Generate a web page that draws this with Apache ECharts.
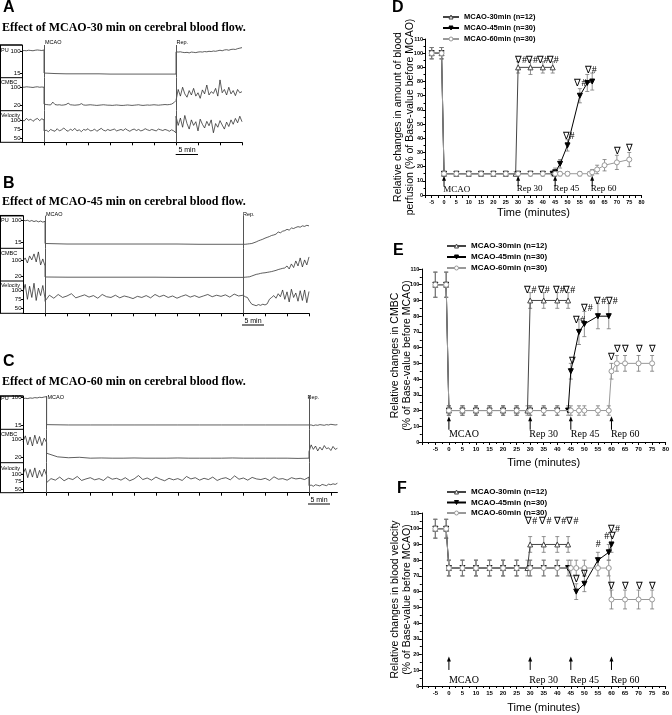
<!DOCTYPE html>
<html><head><meta charset="utf-8">
<script src="https://cdn.jsdelivr.net/npm/echarts@6/dist/echarts.min.js"></script>
<style>html,body{margin:0;padding:0;background:#fff}#c{width:672px;height:715px}</style>
</head><body><div id="c"></div>
<script>
// ================= DATA =================
// ---- Panel A (MCAO-30 min) recordings: pre (-5..0), occlusion, reperfusion ----
const A_PU_pre   = [101,102,101,103,102,101,103,104,103,102,104];
const A_PU_mcao  = [16,14,13,13,13,13,12,12,12,12,12,12,12];
const A_PU_rep   = [97,96,97,95,94,95,93,96,95,94,96,97,96,98,97,99,98,100,99,101,103,101,104,105,103,106,107,106,109,111,113];
const A_CMBC_pre = [101,100,102,101,100,99,101,102,100,101,100];
const A_CMBC_mcao= [24,22,21,20,33,22,20,21,19,20,22,28,21,20,19,20,21,26,20,19,20,21,20,19,18,19,20,21,20,19,19,18,19,20,19,18,18,19,20,19,18,19,20,21,19,18,19,20,19,20,21,20,19,20,21,22,21,22,24,30,40];
const A_CMBC_rep = [45,90,60,100,70,55,85,65,95,60,75,50,88,70,110,65,80,72,95,60,133,75,90,65,100,70,85,62,90,75,80];
const A_VEL_pre  = [100,97,104,99,102,96,101,104,98,103,100];
const A_VEL_mcao = [70,72,68,74,71,69,76,70,73,78,72,69,75,71,77,70,73,68,74,72,76,70,71,75,69,73,77,72,70,74,71,73,75,70,72,74,71,76,72,69,73,75,71,74,70,72,76,73,71,74,72,70,75,73,71,74,72,69,73,70,65];
const A_VEL_rep  = [110,85,105,80,112,90,75,100,85,95,70,102,88,78,96,84,100,65,90,80,98,86,75,94,82,100,88,104,92,110,95];
// ---- Panel B (MCAO-45 min) ----
const B_PU_pre   = [100,97,99,95,98,94,97,93,96,92,95];
const B_PU_mcao  = [12,10,10,10,10,10,10,9,9,9];
const B_PU_rep   = [9,9,10,11,12,15,18,22,25,28,32,35,38,42,44,47,55,52,58,60,65,62,70,68,72,75,73,78,76,80,78];
const B_CMBC_pre = [95,110,85,120,100,130,90,140,75,105,70];
const B_CMBC_mcao= [15,14,14,14,14,14,13,13,13,13];
const B_CMBC_rep = [14,14,15,16,20,24,28,30,33,35,36,38,40,42,45,48,52,55,58,60,70,55,80,62,95,70,110,65,100,75,115];
const B_VEL_pre  = [95,115,75,110,80,118,72,105,85,112,78];
const B_VEL_mcao = [70,86,78,88,80,84,90,79,83,87,81,85,78,88,82,80,86,79,84,81,77,83,80,85,79,88,82,86,80,84,78,83,87,81,85,80,84,88,82,86,83,87,81,89,84,86];
const B_VEL_rep  = [84,82,80,70,62,60,58,61,59,62,60,63,75,80,85,78,90,82,100,75,95,68,102,80,92,70,98,72,100,66,96];
// ---- Panel C (MCAO-60 min) ----
const C_PU_pre   = [97,98,97,99,98,100,99,101,100,102,103];
const C_PU_mcao  = [16,15,15,15,15,15,15,15,15,15,15,15,15];
const C_PU_rep   = [14,15,13,15,14,16,15,14,16,15,17,16,15,16];
const C_CMBC_pre = [90,115,75,110,70,118,80,112,72,105,85];
const C_CMBC_mcao= [38,22,18,20,16,17,16,16,17,16,16,16,17,16,16,16,16,17,16,16,16,16,16,15,16];
const C_CMBC_rep = [45,75,55,70,48,65,52,72,58,62,50,68,55,60];
const C_VEL_pre  = [100,118,88,115,90,120,87,112,92,116,95];
const C_VEL_mcao = [72,85,80,90,78,86,82,92,79,84,88,81,85,79,91,83,86,80,88,78,84,95,82,87,80,90,83,78,86,81,85,79,92,84,88,80,86,82,90,79,85,88,81,94,83,87,80,89,84,82,86,79,91,83,85,80,88,84,86,82,90];
const C_VEL_rep  = [62,64,60,65,63,61,66,64,62,67,65,68,66,70];

// ---- Panels D-F: group means (% of base value) and error bars ----
const NAMES = ['MCAO-30min (n=12)','MCAO-45min (n=30)','MCAO-60min (n=30)'];
const D_x30 = [-5,-1,0,5,10,15,20,25,29,30,35,40,44];
const D_y30 = [100,100,15,15,15,15,15,15,15,90,90,90,90];
const D_e30 = [4,4,1.5,1.5,1.5,1.5,1.5,1.5,1.5,4,5,4,4];
const D_x45 = [-5,-1,0,5,10,15,20,25,30,35,40,44,45,47,50,55,58,60];
const D_y45 = [100,100,15,15,15,15,15,15,15,15,15,15,16,22,35,70,79,80];
const D_e45 = [4,4,1.5,1.5,1.5,1.5,1.5,1.5,1.5,1.5,1.5,1.5,3,3,4,5,6,6];
const D_x60 = [-5,-1,0,5,10,15,20,25,30,35,40,45,47,50,55,59,60,62,65,70,75];
const D_y60 = [100,100,15,15,15,15,15,15,15,15,15,15,15,15,15,15,16,18,21,23,25];
const D_e60 = [4,4,1.5,1.5,1.5,1.5,1.5,1.5,1.5,1.5,1.5,1.5,1.5,1.5,1.5,1.5,2,3,4,5,5];
const D_notes = [[28.7,95,'∇#'],[33.2,95,'∇#'],[37.5,95,'∇#'],[41.6,95,'∇#'],[48,41,'∇#'],[52.8,79,'∇#'],[57,88,'∇#'],[68.8,30.5,'∇'],[73.5,33,'∇']];
const D_arrowX = [0,30,45,60];
const D_arrowY = [6,13.5];
const D_labels = [[-0.3,3.5,'MCAO'],[29.4,4.5,'Rep 30'],[44.3,4.5,'Rep 45'],[59.4,4.5,'Rep 60']];

const E_x30 = [-5,-1,0,5,10,15,20,25,29,30,35,40,44];
const E_y30 = [100,100,20,20,20,20,20,20,20,90,90,90,90];
const E_e30 = [8,8,3,3,3,3,3,3,3,5,5,5,5];
const E_x45 = [-5,-1,0,5,10,15,20,25,30,35,40,44,45,48,50,55,59];
const E_y45 = [100,100,20,20,20,20,20,20,20,20,20,20,45,70,75,80,80];
const E_e45 = [8,8,3,3,3,3,3,3,3,3,3,3,5,8,8,8,8];
const E_x60 = [-5,-1,0,5,10,15,20,25,30,35,40,45,48,50,55,59,60,62,65,70,75];
const E_y60 = [100,100,20,20,20,20,20,20,20,20,20,20,20,20,20,20,45,50,50,50,50];
const E_e60 = [8,8,3,3,3,3,3,3,3,3,3,3,3,3,3,3,5,5,5,5,5];
const E_notes = [[27.9,96.7,'∇#'],[32.8,96.7,'∇#'],[38.3,96.7,'∇#'],[42.2,96.7,'∇#'],[44.2,51.5,'∇'],[45.9,77.6,'∇#'],[48.7,85,'∇#'],[53.6,89.7,'∇#'],[57.9,89.7,'∇#'],[58.6,54,'∇'],[61,59,'∇'],[64,59,'∇'],[69,59,'∇'],[74,59,'∇']];
const E_arrowX = [0,30,45,60];
const E_arrowY = [7.8,16.3];
const E_labels = [[0,4.7,'MCAO'],[29.7,4.7,'Rep 30'],[45,4.7,'Rep 45'],[59.8,4.7,'Rep 60']];

const F_x30 = [-5,-1,0,5,10,15,20,25,29,30,35,40,44];
const F_y30 = [100,100,75,75,75,75,75,75,75,90,90,90,90];
const F_e30 = [6,6,5,5,5,5,5,5,5,5,5,5,5];
const F_x45 = [-5,-1,0,5,10,15,20,25,30,35,40,44,47,50,55,59,60];
const F_y45 = [100,100,75,75,75,75,75,75,75,75,75,75,60,65,80,85,90];
const F_e45 = [6,6,5,5,5,5,5,5,5,5,5,5,5,5,5,5,5];
const F_x60 = [-5,-1,0,5,10,15,20,25,30,35,40,45,47,50,55,59,60,65,70,75];
const F_y60 = [100,100,75,75,75,75,75,75,75,75,75,75,75,75,75,75,55,55,55,55];
const F_e60 = [6,6,5,5,5,5,5,5,5,5,5,5,5,5,5,5,6,6,6,6];
const F_notes = [[28.2,104.7,'∇#'],[33.4,104.7,'∇#'],[38.9,104.7,'∇#'],[43.4,104.7,'∇#'],[45.8,67.5,'∇'],[48.9,70.7,'∇'],[54.2,89.8,'#'],[57.3,95,'#∇'],[58.7,99.4,'∇#'],[58.8,63.3,'∇'],[64,63.3,'∇'],[69,63.3,'∇'],[73.9,63.3,'∇']];
const F_arrowX = [0,30,45,60];
const F_arrowY = [10.2,18.7];
const F_labels = [[0,3.4,'MCAO'],[29.7,3.4,'Rep 30'],[44.8,3.4,'Rep 45'],[59.8,3.4,'Rep 60']];

// ================= BUILD =================
const SANS = 'Arial, "Liberation Sans", sans-serif';
const SERIF = '"Times New Roman", "Liberation Serif", serif';
function seg(start, step, vals){ return vals.map((v,i)=>[Math.round((start+i*step)*1000)/1000, v]); }
const grid=[], xAxis=[], yAxis=[], series=[], graphic=[];

function addTracePanel(p){
  p.rows.forEach((r,i)=>{
    const gi = grid.length, isBottom = i===p.rows.length-1;
    grid.push({left:p.left, top:r.top, width:p.width, height:r.h});
    xAxis.push({gridIndex:gi, type:'value', min:p.xmin, max:p.xmax, show:isBottom, position:'bottom',
      axisLine:{show:true, onZero:false, lineStyle:{color:'#000', width:1}},
      axisTick:{show:true, customValues:p.ticks, length:3, lineStyle:{color:'#000', width:1}},
      axisLabel:{show:false}, splitLine:{show:false}});
    yAxis.push({gridIndex:gi, type:'value', min:r.min, max:r.max,
      axisLine:{show:true, onZero:false, lineStyle:{color:'#000', width:1}},
      axisTick:{show:true, customValues:r.ticks, length:2, lineStyle:{color:'#000'}},
      axisLabel:{show:true, customValues:r.ticks, fontSize:6, margin:1.5, color:'#000', fontFamily:SANS},
      splitLine:{show:false}});
    series.push({type:'line', xAxisIndex:gi, yAxisIndex:gi, data:r.data, symbol:'none', silent:true,
      lineStyle:{color:'#1a1a1a', width:0.7},
      markLine:{silent:true, symbol:'none', label:{show:false}, animation:false,
        lineStyle:{color:'#555', width:1, type:'solid'}, data:[{xAxis:0},{xAxis:p.rep}]}});
  });
}

addTracePanel({left:22, width:220, xmin:-5, xmax:45, rep:30, ticks:[0,5,10,15,20,25,30,35,40,45], rows:[
  {top:45, h:32.7, min:-1.8, max:123, ticks:[15,100], data:[].concat(seg(-5,0.5,A_PU_pre),seg(0,2.5,A_PU_mcao),seg(30,0.5,A_PU_rep))},
  {top:77.7, h:33, min:-5.8, max:143, ticks:[20,100], data:[].concat(seg(-5,0.5,A_CMBC_pre),seg(0,0.5,A_CMBC_mcao),seg(30,0.5,A_CMBC_rep))},
  {top:110.7, h:31.6, min:39, max:125, ticks:[50,75,100], data:[].concat(seg(-5,0.5,A_VEL_pre),seg(0,0.5,A_VEL_mcao),seg(30,0.5,A_VEL_rep))}
]});
addTracePanel({left:23, width:286, xmin:-5, xmax:60, rep:45, ticks:[0,5,10,15,20,25,30,35,40,45,50,55,60], rows:[
  {top:215.7, h:32.6, min:-6, max:116, ticks:[15,100], data:[].concat(seg(-5,0.5,B_PU_pre),seg(0,5,B_PU_mcao),seg(45,0.5,B_PU_rep))},
  {top:248.3, h:32.7, min:-5, max:158, ticks:[20,100], data:[].concat(seg(-5,0.5,B_CMBC_pre),seg(0,5,B_CMBC_mcao),seg(45,0.5,B_CMBC_rep))},
  {top:281, h:32.3, min:37.7, max:124, ticks:[50,75,100], data:[].concat(seg(-5,0.5,B_VEL_pre),seg(0,1,B_VEL_mcao),seg(45,0.5,B_VEL_rep))}
]});
addTracePanel({left:23, width:314.4, xmin:-5.4, xmax:66.5, rep:60, ticks:[0,5,10,15,20,25,30,35,40,45,50,55,60,65], rows:[
  {top:396, h:33.3, min:1.5, max:105, ticks:[15,100], data:[].concat(seg(-5.4,0.54,C_PU_pre),seg(0,5,C_PU_mcao),seg(60,0.5,C_PU_rep))},
  {top:429.3, h:33.4, min:-4, max:144, ticks:[20,100], data:[].concat(seg(-5.4,0.54,C_CMBC_pre),seg(0,2.5,C_CMBC_mcao),seg(60,0.5,C_CMBC_rep))},
  {top:462.7, h:30, min:39, max:137, ticks:[50,75,100], data:[].concat(seg(-5.4,0.54,C_VEL_pre),seg(0,1,C_VEL_mcao),seg(60,0.5,C_VEL_rep))}
]});

const STYLES = [
  {color:'#444', fill:'#fff', symbol:'triangle', rotate:0, z:3},
  {color:'#000', fill:'#000', symbol:'triangle', rotate:180, z:4},
  {color:'#999', fill:'#fff', symbol:'circle', rotate:0, z:5}
];

function addStatPanel(p){
  const gi = grid.length;
  grid.push({left:p.left, top:p.top, width:p.width, height:p.height});
  xAxis.push({gridIndex:gi, type:'value', min:p.xmin, max:80, interval:p.xint,
    name:'Time (minutes)', nameLocation:'middle', nameGap:p.xNameGap,
    nameTextStyle:{fontSize:11, color:'#000', fontFamily:SANS},
    axisLine:{onZero:false, lineStyle:{color:'#000', width:1}},
    axisTick:{length:3, lineStyle:{color:'#000'}},
    minorTick:{show:p.xMinor, splitNumber:2, length:2, lineStyle:{color:'#000'}},
    axisLabel:{fontSize:p.tickFont, fontWeight:'bold', color:'#000', margin:4, fontFamily:SANS,
      formatter:v=>(v>=-5 && Math.abs(v%5)<1e-9)?String(Math.round(v)):''},
    splitLine:{show:false}, minorSplitLine:{show:false}});
  yAxis.push({gridIndex:gi, type:'value', min:0, max:110, interval:10,
    name:p.yName, nameLocation:'middle', nameGap:p.yNameGap, nameRotate:90, nameMoveOverlap:false,
    nameTextStyle:{fontSize:10.5, color:'#000', fontFamily:SANS, lineHeight:11.5},
    axisLine:{onZero:false, lineStyle:{color:'#000', width:1}},
    axisTick:{length:3, lineStyle:{color:'#000'}},
    minorTick:{show:true, splitNumber:2, length:2, lineStyle:{color:'#000'}},
    axisLabel:{fontSize:p.yTickFont, fontWeight:'bold', color:'#000', margin:2.5, fontFamily:SANS},
    splitLine:{show:false}, minorSplitLine:{show:false}});
  p.sets.forEach((s,k)=>{
    series.push({type:'custom', xAxisIndex:gi, yAxisIndex:gi, silent:true, z:1,
      data:s.x.map((x,i)=>[x, s.y[i], s.e[i]]),
      renderItem:(params, api)=>{
        const x=api.value(0), y=api.value(1), e=api.value(2);
        const t=api.coord([x,y+e]), b=api.coord([x,y-e]);
        const ls={stroke:'#777', lineWidth:0.8};
        return {type:'group', children:[
          {type:'line', shape:{x1:t[0],y1:t[1],x2:b[0],y2:b[1]}, style:ls},
          {type:'line', shape:{x1:t[0]-2,y1:t[1],x2:t[0]+2,y2:t[1]}, style:ls},
          {type:'line', shape:{x1:b[0]-2,y1:b[1],x2:b[0]+2,y2:b[1]}, style:ls}]};
      }});
  });
  p.sets.forEach((s,k)=>{
    const st = STYLES[k];
    series.push({type:'line', name:NAMES[k], xAxisIndex:gi, yAxisIndex:gi, z:st.z,
      data:s.x.map((x,i)=>[x, s.y[i]]), symbol:st.symbol, symbolSize:5, symbolRotate:st.rotate,
      lineStyle:{color:st.color, width:1}, itemStyle:{color:st.fill, borderColor:st.color, borderWidth:1}});
  });
  series.push({type:'custom', xAxisIndex:gi, yAxisIndex:gi, silent:true, z:6,
    data:p.notes.map(n=>[n[0], n[1]]),
    renderItem:(params, api)=>{
      const pt=api.coord([api.value(0), api.value(1)]);
      return {type:'text', x:pt[0], y:pt[1], style:{text:p.notes[params.dataIndex][2], font:'10px '+SERIF, fill:'#000', align:'left', verticalAlign:'middle'}};
    }});
  series.push({type:'custom', xAxisIndex:gi, yAxisIndex:gi, silent:true, z:6,
    data:p.arrowX.map(x=>[x, p.arrowY[0], p.arrowY[1]]),
    renderItem:(params, api)=>{
      const a=api.coord([api.value(0), api.value(1)]), b=api.coord([api.value(0), api.value(2)]);
      return {type:'group', children:[
        {type:'line', shape:{x1:a[0],y1:a[1],x2:b[0],y2:b[1]+3}, style:{stroke:'#000', lineWidth:1}},
        {type:'polygon', shape:{points:[[b[0],b[1]],[b[0]-2,b[1]+5],[b[0]+2,b[1]+5]]}, style:{fill:'#000'}}]};
    }});
  series.push({type:'custom', xAxisIndex:gi, yAxisIndex:gi, silent:true, z:6,
    data:p.labels.map(n=>[n[0], n[1]]),
    renderItem:(params, api)=>{
      const pt=api.coord([api.value(0), api.value(1)]);
      return {type:'text', x:pt[0], y:pt[1], style:{text:p.labels[params.dataIndex][2], font:p.labelFont+'px '+SERIF, fill:'#000', align:'left', verticalAlign:'middle'}};
    }});
}

addStatPanel({left:425.5, top:39, width:216.1, height:156, xmin:-7.5, xint:2.5, xMinor:false, tickFont:5.5, yTickFont:5.5,
  xNameGap:12.5, yNameGap:10, labelFont:9,
  yName:'Relative changes in amount of blood\nperfusion (% of Base-value before MCAO)',
  sets:[{x:D_x30,y:D_y30,e:D_e30},{x:D_x45,y:D_y45,e:D_e45},{x:D_x60,y:D_y60,e:D_e60}],
  notes:D_notes, arrowX:D_arrowX, arrowY:D_arrowY, labels:D_labels});
addStatPanel({left:421.8, top:269, width:244.8, height:173, xmin:-10, xint:5, xMinor:true, tickFont:6, yTickFont:5.5,
  xNameGap:15.5, yNameGap:9, labelFont:10,
  yName:'Relative changes in CMBC\n(% of Base-value before MCAO)',
  sets:[{x:E_x30,y:E_y30,e:E_e30},{x:E_x45,y:E_y45,e:E_e45},{x:E_x60,y:E_y60,e:E_e60}],
  notes:E_notes, arrowX:E_arrowX, arrowY:E_arrowY, labels:E_labels});
addStatPanel({left:421.8, top:513, width:244.8, height:173, xmin:-10, xint:5, xMinor:true, tickFont:6, yTickFont:5.5,
  xNameGap:16.5, yNameGap:9, labelFont:10,
  yName:'Relative changes in blood velocity\n(% of Base-value before MCAO)',
  sets:[{x:F_x30,y:F_y30,e:F_e30},{x:F_x45,y:F_y45,e:F_e45},{x:F_x60,y:F_y60,e:F_e60}],
  notes:F_notes, arrowX:F_arrowX, arrowY:F_arrowY, labels:F_labels});

// ---- static text & frames ----
function T(text,x,y,font,align){ graphic.push({type:'text', x, y, silent:true, style:{text, font, fill:'#000', align:align||'left', verticalAlign:'middle'}}); }
function L(x1,y1,x2,y2,w){ graphic.push({type:'line', silent:true, shape:{x1,y1,x2,y2}, style:{stroke:'#000', lineWidth:w||1}}); }
const LETTER = 'bold 16px '+SANS, TITLE = 'bold 12px '+SERIF, SMALL = '5.5px '+SANS;
function frame(left, top, s1, s2, bottom){ L(0.5,top,0.5,bottom); L(0,top,left,top,1.5); L(0,s1,left,s1); L(0,s2,left,s2); L(0,bottom,left,bottom); }
// A
T('A',3,7.5,LETTER); T('Effect of MCAO-30 min on cerebral blood flow.',2,28.3,TITLE);
frame(22,45,77.7,110.7,142.3);
T('PU',1,50,SMALL); T('CMBC',1,82.7,SMALL); T('Velocity',1,115,SMALL);
T('MCAO',45,42,SMALL); T('Rep.',176.5,42,SMALL);
L(175.7,154.5,198,154.5); T('5 min',187,150,'7px '+SANS,'center');
// B
T('B',3,184,LETTER); T('Effect of MCAO-45 min on cerebral blood flow.',2,202,TITLE);
frame(23,215.7,248.3,281,313.3);
T('PU',1,220,SMALL); T('CMBC',1,253,SMALL); T('Velocity',1,285,SMALL);
T('MCAO',46,214,SMALL); T('Rep.',243,214,SMALL);
L(242,325,264,325); T('5 min',253,321.5,'7px '+SANS,'center');
// C
T('C',3,362,LETTER); T('Effect of MCAO-60 min on cerebral blood flow.',2,381.7,TITLE);
frame(23,396,429.3,462.7,492.7);
T('PU',1,398,SMALL); T('CMBC',1,434,SMALL); T('Velocity',1,468,SMALL);
T('MCAO',47.5,397,SMALL); T('Rep.',307.5,397,SMALL);
L(308,504,330,504); T('5 min',319,500,'7px '+SANS,'center');
// D-F letters
T('D',392,7.5,LETTER); T('E',393,251,LETTER); T('F',397,489,LETTER);

const legendItems = NAMES.map((n,k)=>({name:n, itemStyle:{color:STYLES[k].fill, borderColor:STYLES[k].color, borderWidth:1}}));
const legendBase = {orient:'vertical', data:legendItems, selectedMode:false, padding:0, itemHeight:5, itemGap:3,
  textStyle:{fontSize:8, fontWeight:'bold', color:'#000', fontFamily:SANS}};

const chart = echarts.init(document.getElementById('c'), null, {renderer:'canvas'});
chart.setOption({
  animation:false, backgroundColor:'#fff',
  grid, xAxis, yAxis, series, graphic,
  legend:[
    Object.assign({}, legendBase, {left:442, top:13, itemWidth:16, textStyle:Object.assign({}, legendBase.textStyle, {fontSize:7.5})}),
    Object.assign({}, legendBase, {left:446, top:242, itemWidth:19}),
    Object.assign({}, legendBase, {left:446, top:488, itemWidth:19, itemGap:2.5})
  ]
});
</script></body></html>
